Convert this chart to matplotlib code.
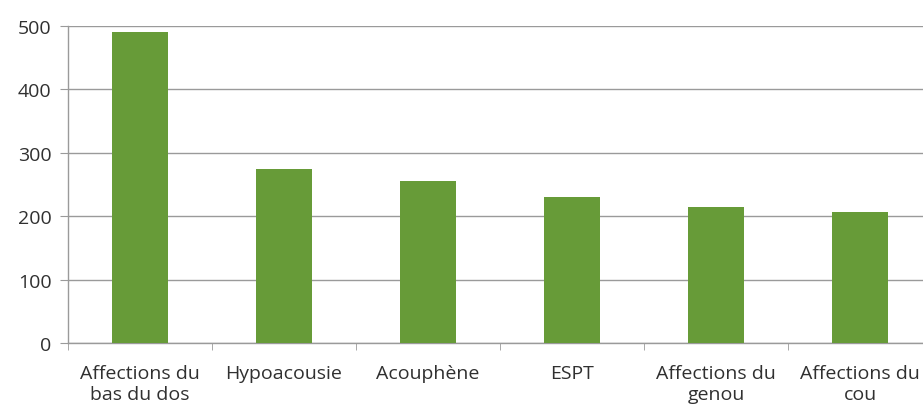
import matplotlib
matplotlib.use("Agg")
import matplotlib.pyplot as plt
import numpy as np

categories = ["Affections du\nbas du dos", "Hypoacousie", "Acouphène", "ESPT",
              "Affections du\ngenou", "Affections du\ncou"]
values = [490, 274, 255, 231, 215, 207]
yticks = [0, 100, 200, 300, 400, 500]

plt.rcParams['font.family'] = ['Open Sans', 'DejaVu Sans']

fig = plt.figure(figsize=(9.23, 4.10), dpi=100)
ax = fig.add_axes([68/923, 66/410, 864/923, 317/410])

x = np.arange(len(categories))
ax.bar(x, values, width=0.39, color="#679b38", zorder=3)

ax.set_xlim(-0.5, len(categories) - 0.5)
ax.set_ylim(0, 500)
ax.set_yticks(yticks)
ax.set_yticklabels([str(v) for v in yticks])
ax.yaxis.grid(True, color="#9a9a9a", linewidth=1.0, zorder=0)

ax.set_xticks(x)
ax.set_xticklabels(categories, linespacing=1.22)
ax.set_xticks(np.arange(len(categories) + 1) - 0.5, minor=True)
ax.tick_params(axis='x', which='major', length=0, pad=15, labelsize=14, labelcolor="#303030")
ax.tick_params(axis='x', which='minor', length=5, color="#9a9a9a", direction='out')
ax.tick_params(axis='y', length=6, color="#9a9a9a", pad=6, labelsize=14, labelcolor="#303030")

for s in ["top", "right"]:
    ax.spines[s].set_visible(False)
for s in ["left", "bottom"]:
    ax.spines[s].set_color("#9a9a9a")
    ax.spines[s].set_linewidth(1.0)

fig.savefig("out.png", dpi=100, facecolor="white")
